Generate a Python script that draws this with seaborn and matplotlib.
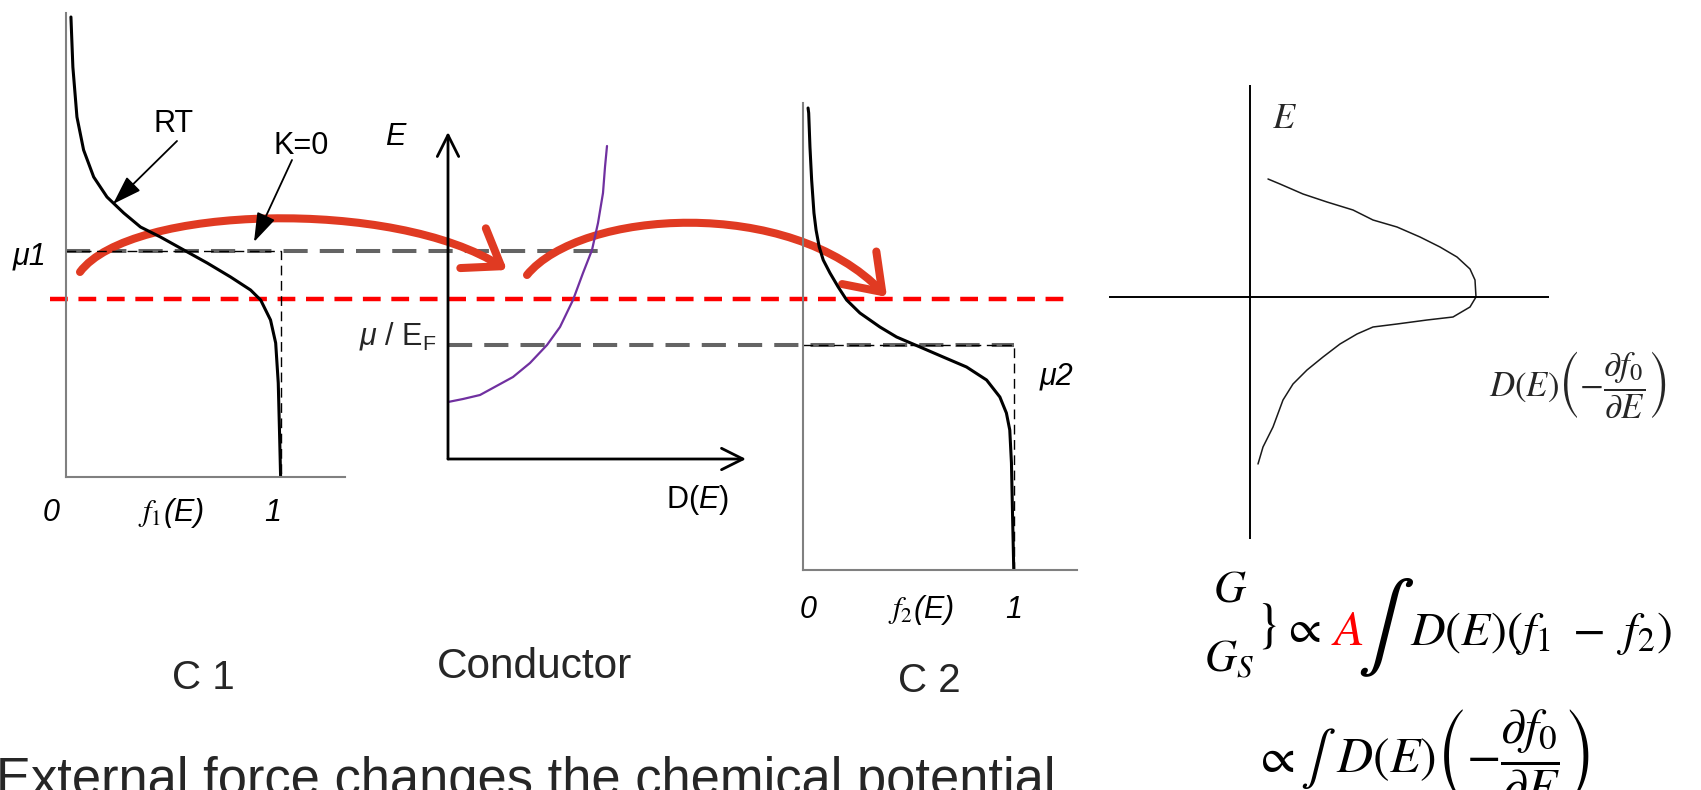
import numpy as np
import pandas as pd
import matplotlib
matplotlib.use("Agg")
import matplotlib.pyplot as plt
from matplotlib.path import Path
from matplotlib.patches import FancyArrowPatch
import seaborn as sns

# ---------------- data (energy E in common units, mu = 0) ----------------
mu0 = 0.0      # mu (red dashed)
mu1 = 0.48     # chemical potential of contact 1
mu2 = -0.46    # chemical potential of contact 2 / E_F

# C1 Fermi function (room temperature)
c1_f = [0.023, 0.032, 0.051, 0.082, 0.129, 0.191, 0.269, 0.347, 0.440, 0.549,
        0.658, 0.767, 0.860, 0.907, 0.953, 0.977, 0.989, 0.995, 1.0]
c1_E = [2.82, 2.32, 1.82, 1.49, 1.22, 1.02, 0.86, 0.72, 0.62, 0.49,
        0.36, 0.22, 0.09, -0.01, -0.21, -0.44, -0.84, -1.34, -1.78]

# C2 Fermi function
c2_f = [0.024, 0.027, 0.033, 0.041, 0.052, 0.062, 0.077, 0.096, 0.128, 0.167, 0.207,
        0.270, 0.365, 0.444, 0.555, 0.665, 0.776, 0.871, 0.934, 0.965, 0.981,
        0.989, 0.994, 1.0]
c2_E = [1.91, 1.86, 1.52, 1.19, 0.86, 0.69, 0.52, 0.39, 0.26, 0.12, -0.01,
        -0.14, -0.28, -0.38, -0.48, -0.58, -0.68, -0.81, -0.98, -1.14, -1.31,
        -1.64, -2.14, -2.71]

# Conductor density of states D(E)
dos_D = [0.0, 0.15, 0.32, 0.65, 0.82, 0.99, 1.12, 1.25, 1.35, 1.44, 1.50, 1.55, 1.57, 1.59]
dos_E = [-1.03, -1.00, -0.96, -0.78, -0.64, -0.46, -0.28, -0.01, 0.26, 0.49, 0.76, 1.06, 1.32, 1.53]

# D(E)(-df0/dE) curve (right panel)
w_x = [0.18, 0.30, 0.53, 0.77, 1.03, 1.23, 1.47, 1.70, 1.90, 2.07, 2.20, 2.25, 2.26,
       2.20, 2.03, 1.77, 1.47, 1.23, 1.07, 0.90, 0.73, 0.57, 0.43, 0.33, 0.23, 0.13, 0.08]
w_E = [1.18, 1.13, 1.03, 0.95, 0.87, 0.77, 0.70, 0.60, 0.50, 0.40, 0.28, 0.17, 0.00,
       -0.10, -0.20, -0.23, -0.27, -0.30, -0.37, -0.47, -0.60, -0.73, -0.87, -1.03, -1.30, -1.50, -1.67]

# ---------------- style ----------------
sns.set_theme(style="white")
plt.rcParams["font.family"] = ["Liberation Sans", "DejaVu Sans"]
plt.rcParams["mathtext.fontset"] = "stix"
plt.rcParams["mathtext.rm"] = "Liberation Sans"
plt.rcParams["mathtext.it"] = "Liberation Sans:italic"
plt.rcParams["mathtext.bf"] = "Liberation Sans:bold"
plt.rcParams["mathtext.sf"] = "Liberation Sans"

W, H = 1701, 790
fig = plt.figure(figsize=(W / 100, H / 100), dpi=100)
fig.patch.set_facecolor("white")


def box(l, t, r, b):
    return [l / W, 1 - b / H, (r - l) / W, (b - t) / H]


def clean(ax):
    ax.set_facecolor("none")
    ax.set_xticks([])
    ax.set_yticks([])
    ax.set_xlabel("")
    ax.set_ylabel("")


GRAY = "#646464"
RED = "#ff0000"
ARROW_RED = "#e03a22"

# background axes: x in pixels, y in energy units
bg = fig.add_axes(box(0, 0, W, H))
bg.set_xlim(0, W)
bg.set_ylim((299 - H) / 100, 299 / 100)
bg.axis("off")
bg.hlines(mu1, 66, 607, color=GRAY, lw=2.9, linestyles=(0, (6, 3)), zorder=1)
bg.hlines(mu2, 448, 1014, color=GRAY, lw=2.9, linestyles=(0, (6, 3)), zorder=1)
bg.hlines(mu0, 50, 1074, color=RED, lw=3.2, linestyles=(0, (4, 2.4)), zorder=1)

# red curved arrows (overlay in pixel coordinates)
ov = fig.add_axes(box(0, 0, W, H))
ov.set_xlim(0, W)
ov.set_ylim(H, 0)
ov.axis("off")
ov.set_facecolor("none")

for pts in [[(80, 272), (130, 205), (395, 198), (507, 270)],
            [(527, 275), (580, 210), (790, 195), (887, 297)]]:
    p = Path(pts, [Path.MOVETO, Path.CURVE4, Path.CURVE4, Path.CURVE4])
    arr = FancyArrowPatch(path=p, arrowstyle="->,head_length=1.2,head_width=0.85",
                          mutation_scale=20, lw=5.8, color=ARROW_RED,
                          capstyle="round", joinstyle="round", zorder=2)
    ov.add_patch(arr)

# ---------------- C1 panel ----------------
ax1 = fig.add_axes(box(66, 13, 345, 477))
sns.lineplot(x=c1_f, y=c1_E, sort=False, estimator=None, color="black", lw=2.2, ax=ax1)
ax1.plot([0, 1, 1], [mu1, mu1, -1.78], color="black", lw=1.0, dashes=(7, 4))
ax1.set_xlim(0, 1.30)
ax1.set_ylim(-1.78, 2.86)
clean(ax1)
for s in ["top", "right"]:
    ax1.spines[s].set_visible(False)
for s in ["left", "bottom"]:
    ax1.spines[s].set_color("#808080")
    ax1.spines[s].set_linewidth(1.5)

# ---------------- Conductor panel ----------------
axc = fig.add_axes(box(448, 132, 746, 459))
sns.lineplot(x=dos_D, y=dos_E, sort=False, estimator=None, color="#7030a0", lw=1.6, ax=axc)
axc.set_xlim(0, 2.98)
axc.set_ylim(-1.60, 1.67)
clean(axc)
for s in axc.spines.values():
    s.set_visible(False)
axc.annotate("", xy=(0, 1), xytext=(0, 0), xycoords="axes fraction",
             arrowprops=dict(arrowstyle="->,head_length=0.7,head_width=0.35", lw=2.0,
                             color="black", shrinkA=0, shrinkB=0, mutation_scale=22))
axc.annotate("", xy=(1, 0), xytext=(0, 0), xycoords="axes fraction",
             arrowprops=dict(arrowstyle="->,head_length=0.7,head_width=0.35", lw=2.0,
                             color="black", shrinkA=0, shrinkB=0, mutation_scale=22))

# ---------------- C2 panel ----------------
ax2 = fig.add_axes(box(803, 103, 1077, 570))
sns.lineplot(x=c2_f, y=c2_E, sort=False, estimator=None, color="black", lw=2.2, ax=ax2)
ax2.plot([0, 1, 1], [mu2, mu2, -2.71], color="black", lw=1.0, dashes=(7, 4))
ax2.set_xlim(0, 1.30)
ax2.set_ylim(-2.71, 1.96)
clean(ax2)
for s in ["top", "right"]:
    ax2.spines[s].set_visible(False)
for s in ["left", "bottom"]:
    ax2.spines[s].set_color("#808080")
    ax2.spines[s].set_linewidth(1.5)

# ---------------- right panel ----------------
axr = fig.add_axes(box(1109, 85, 1549, 539))
sns.lineplot(x=w_x, y=w_E, sort=False, estimator=None, color="#1a1a1a", lw=1.1, ax=axr)
axr.set_xlim(-1.41, 2.99)
axr.set_ylim(-2.42, 2.12)
axr.axhline(0, color="black", lw=1.4)
axr.axvline(0, color="black", lw=1.4)
clean(axr)
for s in axr.spines.values():
    s.set_visible(False)

# ---------------- texts ----------------
tx = fig.add_axes(box(0, 0, W, H))
tx.set_xlim(0, W)
tx.set_ylim(H, 0)
tx.axis("off")
tx.set_facecolor("none")

lab = dict(fontsize=22, ha="center", va="center", color="black")
tx.text(174, 124, "RT", **lab)
tx.text(301, 146, "K=0", **lab)
tx.annotate("", xy=(113, 204), xytext=(177, 141),
            arrowprops=dict(arrowstyle="-|>,head_length=0.9,head_width=0.3", lw=1.3,
                            color="black", shrinkA=0, shrinkB=0, mutation_scale=20))
tx.annotate("", xy=(254, 242), xytext=(292, 160),
            arrowprops=dict(arrowstyle="-|>,head_length=0.9,head_width=0.3", lw=1.3,
                            color="black", shrinkA=0, shrinkB=0, mutation_scale=20))
tx.text(30, 256, "μ1", style="italic", **lab)
tx.text(395, 137, "E", style="italic", **lab)
tx.text(437, 336, r"$\mu$ / E$_{\mathrm{F}}$", fontsize=22, ha="right", va="center",
        math_fontfamily="custom")
tx.text(697, 500, r"D($E$)", math_fontfamily="custom", **lab)

tx.text(51, 513, "0", style="italic", **lab)
tx.text(171, 513, r"$f_1$(E)", style="italic", math_fontfamily="stix", **lab)
tx.text(273, 513, "1", style="italic", **lab)
tx.text(808, 610, "0", style="italic", **lab)
tx.text(921, 610, r"$f_2$(E)", style="italic", math_fontfamily="stix", **lab)
tx.text(1014, 610, "1", style="italic", **lab)
tx.text(1057, 377, "μ2", style="italic", **lab)

tx.text(203, 678, "C 1", fontsize=29, ha="center", va="center")
tx.text(534, 667, "Conductor", fontsize=30.5, ha="center", va="center")
tx.text(929, 681, "C 2", fontsize=29, ha="center", va="center")

tx.text(-4, 795, "External force changes the chemical potential", fontsize=37.8,
        ha="left", va="baseline")

# right panel labels
tx.text(1284, 118, r"$E$", fontsize=26, ha="center", va="center", math_fontfamily="stix")
tx.text(1578, 385, r"$D(E)\left(-\dfrac{\partial f_0}{\partial E}\right)$", fontsize=25,
        ha="center", va="center", math_fontfamily="stix")

# equations
eq = dict(math_fontfamily="stix", color="black")
tx.text(1213, 601, r"$G$", fontsize=32, ha="left", va="baseline", **eq)
tx.text(1204, 671, r"$G_S$", fontsize=32, ha="left", va="baseline", **eq)
tx.text(1266, 626, r"$\}$", fontsize=38, ha="center", va="center", **eq)
tx.text(1302, 630, r"$\propto$", fontsize=34, ha="center", va="center", **eq)
tx.text(1331, 645, r"$A$", fontsize=36, ha="left", va="baseline",
        math_fontfamily="stix", color="#ff0000")
tx.text(1385, 628, r"$\int$", fontsize=62, ha="center", va="center", **eq)
tx.text(1410, 645, r"$D(E)(f_1\ -\ f_2)$", fontsize=34.5, ha="left", va="baseline", **eq)

tx.text(1274, 772, r"$\propto$", fontsize=36, ha="center", va="baseline", **eq)
tx.text(1318, 772, r"$\int$", fontsize=38, ha="center", va="baseline", **eq)
tx.text(1336, 772, r"$D(E)\left(-\dfrac{\partial f_0}{\partial E}\right)$",
        fontsize=36, ha="left", va="baseline", **eq)

fig.savefig("out.png", dpi=100, facecolor="white")
